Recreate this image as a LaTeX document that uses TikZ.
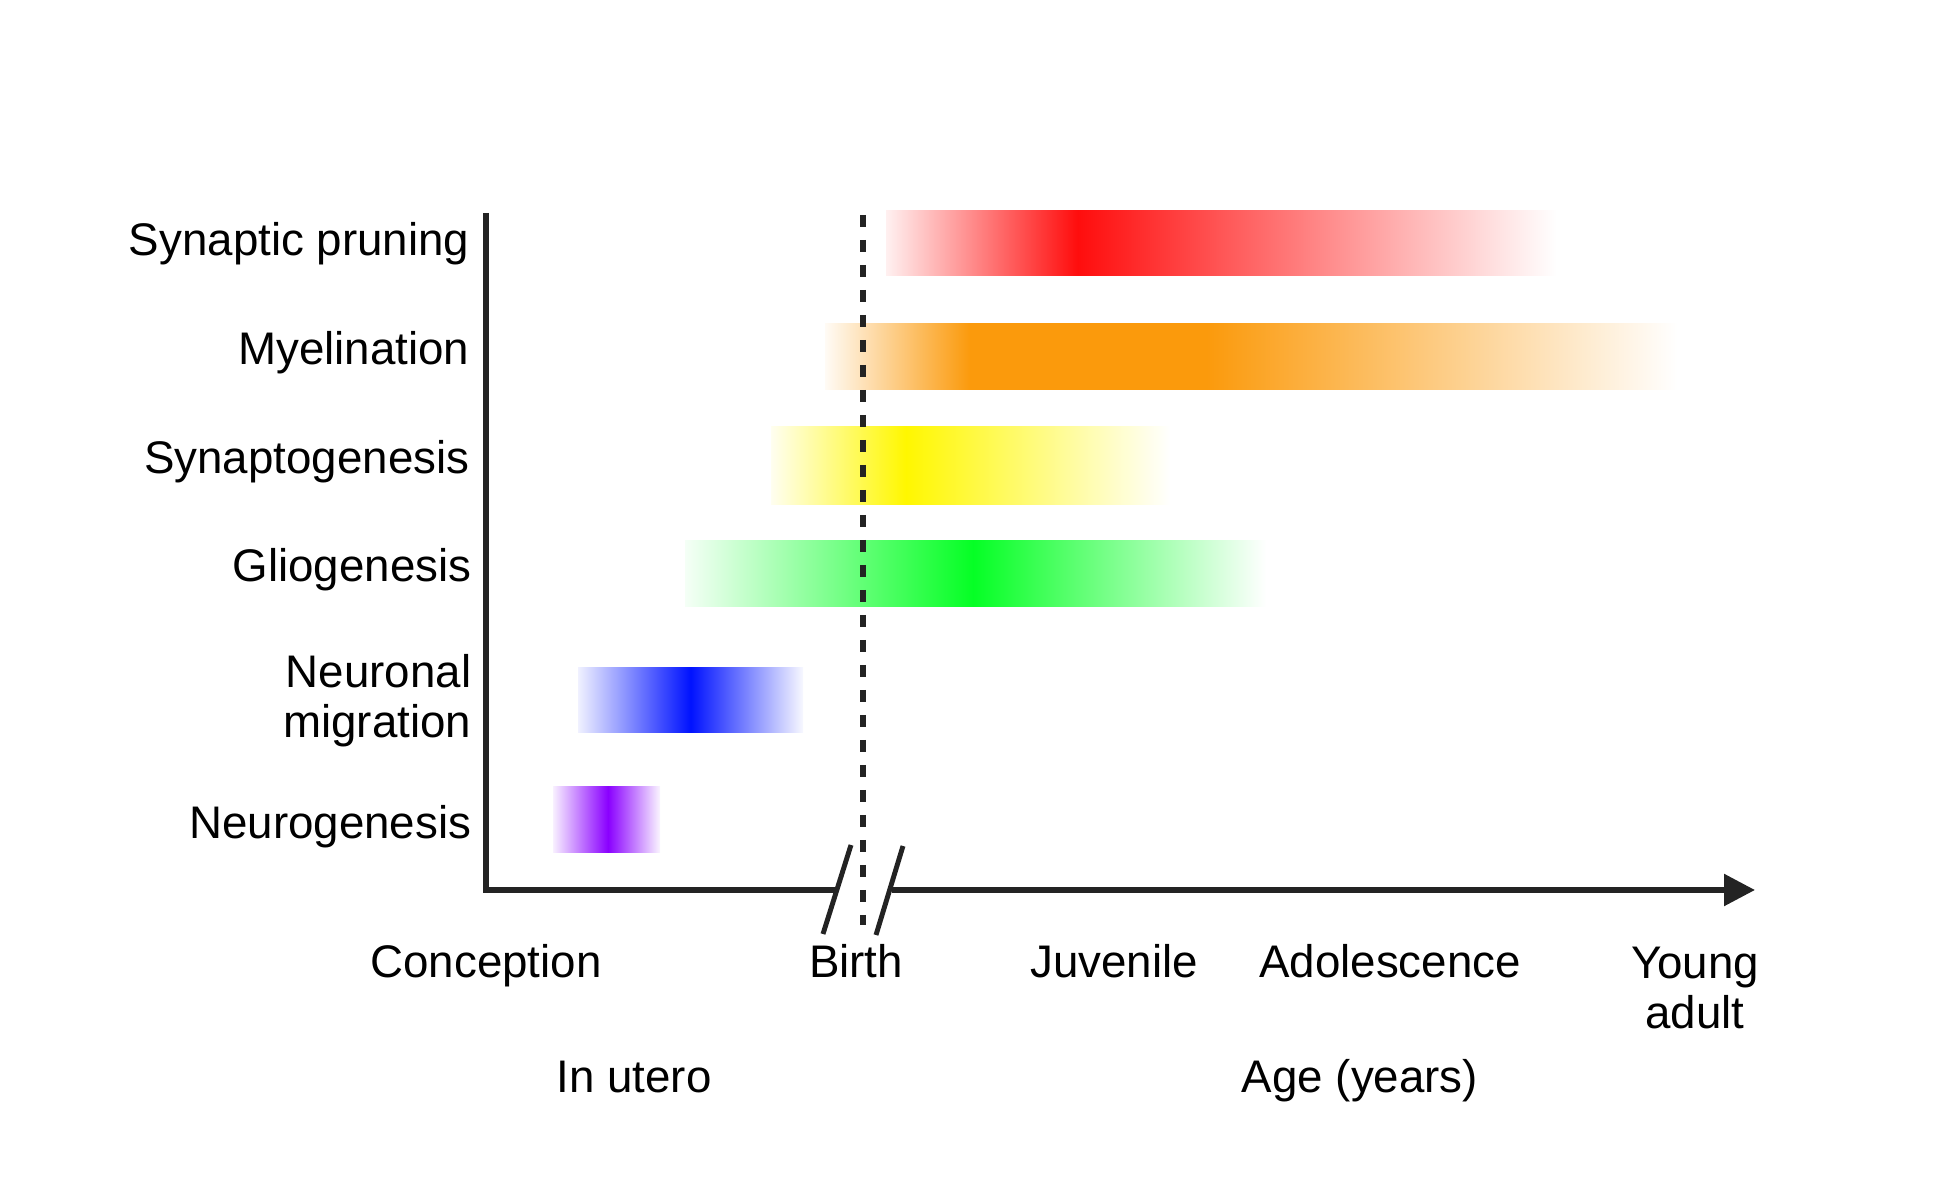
\documentclass[tikz,border=0pt]{standalone}
\usepackage{fontspec}
\usepackage{xcolor}
\setmainfont{Liberation Sans}
\usetikzlibrary{arrows.meta,positioning}

\definecolor{axisgray}{HTML}{232323}
\definecolor{prunered}{HTML}{FF0D0D}
\definecolor{myelorange}{HTML}{FB9A0C}
\definecolor{synyellow}{HTML}{FFF700}
\definecolor{gliogreen}{HTML}{05FF25}
\definecolor{migblue}{HTML}{0012FF}
\definecolor{neuropurple}{HTML}{8A00FF}

\pgfdeclarehorizontalshading{pruneshade}{100bp}{color(0bp)=(prunered!6); color(25bp)=(prunered!6); color(39.3bp)=(prunered); color(75bp)=(white); color(100bp)=(white)}
\pgfdeclarehorizontalshading{myelshade}{100bp}{color(0bp)=(myelorange!4); color(25bp)=(myelorange!4); color(33.5bp)=(myelorange); color(47.4bp)=(myelorange); color(75bp)=(white); color(100bp)=(white)}
\pgfdeclarehorizontalshading{synshade}{100bp}{color(0bp)=(synyellow!6); color(25bp)=(synyellow!6); color(41.9bp)=(synyellow); color(75bp)=(white); color(100bp)=(white)}
\pgfdeclarehorizontalshading{glioshade}{100bp}{color(0bp)=(gliogreen!4); color(25bp)=(gliogreen!4); color(49.8bp)=(gliogreen); color(75bp)=(white); color(100bp)=(white)}
\pgfdeclarehorizontalshading{migshade}{100bp}{color(0bp)=(migblue!6); color(25bp)=(migblue!6); color(50bp)=(migblue); color(75bp)=(migblue!3); color(100bp)=(migblue!3)}
\pgfdeclarehorizontalshading{neuroshade}{100bp}{color(0bp)=(neuropurple!6); color(25bp)=(neuropurple!6); color(50.7bp)=(neuropurple); color(75bp)=(neuropurple!4); color(100bp)=(neuropurple!4)}

\begin{document}
\begin{tikzpicture}[font=\fontsize{13pt}{14.2pt}\selectfont,
  axisline/.style={draw=axisgray, line width=1.6pt},
  birthline/.style={draw=axisgray, line width=1.6pt, dash pattern=on 0.12cm off 0.13cm},
  stage/.style={inner sep=0pt, anchor=east, align=right},
  period/.style={inner sep=0pt, anchor=base}]
\useasboundingbox (0,0) rectangle (19.5,12);

\shade[shading=pruneshade] (8.86,9.24) rectangle (15.56,9.89);
\shade[shading=myelshade] (8.25,8.10) rectangle (16.77,8.76);
\shade[shading=synshade] (7.71,6.95) rectangle (11.70,7.73);
\shade[shading=glioshade] (6.85,5.93) rectangle (12.66,6.59);
\shade[shading=migshade] (5.78,4.67) rectangle (8.03,5.32);
\shade[shading=neuroshade] (5.53,3.47) rectangle (6.60,4.13);

\node[stage] (prune) at (4.70,9.565) {Synaptic pruning};
\node[stage] (myel) at (4.70,8.47) {Myelination};
\node[stage] (synapt) at (4.70,7.38) {Synaptogenesis};
\node[stage] (glio) at (4.72,6.30) {Gliogenesis};
\node[stage] (migr) at (4.72,4.99) {Neuronal\\migration};
\node[stage] (neuro) at (4.72,3.73) {Neurogenesis};

\coordinate (ytop) at (4.86,9.87);
\coordinate (origin) at (4.86,3.10);
\coordinate (brkL) at (8.35,3.10);
\coordinate (brkR) at (8.92,3.10);
\coordinate (xend) at (17.55,3.10);
\coordinate (btop) at (8.63,9.85);
\coordinate (bbot) at (8.63,2.75);

\draw[birthline] (btop) -- (bbot);
\draw[axisline] (ytop) -- (origin) -- (brkL);
\draw[axisline, -{Triangle[length=3.1mm, width=3.1mm]}] (brkR) -- (xend);
\draw[axisline, line width=1.4pt] (8.23,2.66) -- (8.51,3.55);
\draw[axisline, line width=1.4pt] (8.76,2.65) -- (9.03,3.54);

\node[period] (conc) at (4.86,2.22) {Conception};
\node[period] (birth) at (8.56,2.22) {Birth};
\node[period] (juv) at (11.14,2.22) {Juvenile};
\node[period] (adol) at (13.90,2.22) {Adolescence};
\node[inner sep=0pt, anchor=north, align=center] (young) at (16.95,2.54) {Young\\adult};
\node[period] (utero) at (6.34,1.07) {In utero};
\node[period] (age) at (13.60,1.07) {Age (years)};
\end{tikzpicture}
\end{document}
